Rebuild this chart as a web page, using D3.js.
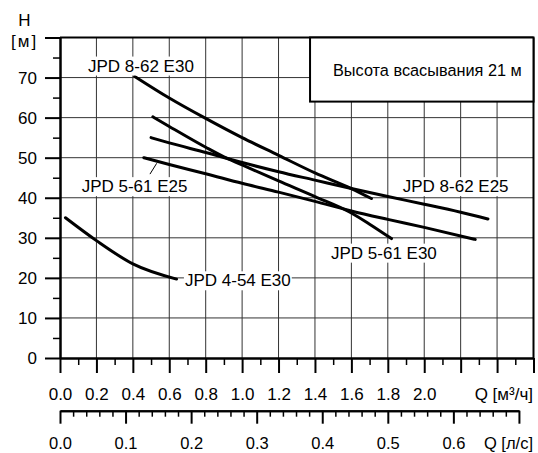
<!DOCTYPE html>
<html><head><meta charset="utf-8">
<script src="https://cdn.jsdelivr.net/npm/d3@7"></script>
<style>
html,body{margin:0;padding:0;background:#fff;}
svg text{font-family:"Liberation Sans",Arial,Helvetica,sans-serif;fill:#000;}
</style></head><body>
<svg id="chart" width="538" height="453"></svg>
<script>
// ---- data (Q in m3/h, H in m) ----
const seriesNames = ["JPD 8-62 E30", "JPD 5-61 E30", "JPD 8-62 E25", "JPD 5-61 E25", "JPD 4-54 E30"];
const jpd862e30 = [[0.41,70.3],[0.6,64.9],[0.8,59.8],[1.0,55.0],[1.2,50.6],[1.4,46.2],[1.6,42.3],[1.71,39.8]];
const jpd561e30 = [[0.51,60.2],[0.6,57.8],[0.8,52.6],[0.9,50.2],[1.0,48.2],[1.2,44.2],[1.4,40.3],[1.6,36.2],[1.7,33.4],[1.82,29.8]];
const jpd862e25 = [[0.50,55.0],[0.6,53.7],[0.8,51.3],[1.0,48.8],[1.2,46.5],[1.4,44.4],[1.6,42.3],[1.8,40.3],[2.0,38.4],[2.2,36.4],[2.35,34.7]];
const jpd561e25 = [[0.46,50.0],[0.6,48.3],[0.8,46.0],[1.0,43.6],[1.2,41.4],[1.4,39.1],[1.6,36.7],[1.8,34.6],[2.0,32.6],[2.28,29.6]];
const jpd454e30 = [[0.03,35.0],[0.2,29.3],[0.4,23.5],[0.64,19.7]];
const qTickLabels = ["0.0","0.2","0.4","0.6","0.8","1.0","1.2","1.4","1.6","1.8","2.0"];
const lsTickLabels = ["0.0","0.1","0.2","0.3","0.4","0.5","0.6"];
const hTickLabels = ["0","10","20","30","40","50","60","70"];
const legendText = "Высота всасывания 21 м";
const qTitle = "Q [м³/ч]";
const lsTitle = "Q [л/с]";
const hTitle = "H";
const hUnit = "[м]";

const svg = d3.select("#chart");
const FS = 17;
const x = d3.scaleLinear().domain([0, 2.6]).range([60, 533.5]);
const y = d3.scaleLinear().domain([0, 80]).range([358, 37.5]);
const xls = d3.scaleLinear().domain([0, 0.7]).range([x(0), x(0.7 * 3.6)]);

// grid
const grid = svg.append("g");
grid.selectAll("line.v").data(d3.range(1, 13).map(i => i * 0.2)).join("line")
  .attr("x1", d => x(d)).attr("x2", d => x(d)).attr("y1", y(0)).attr("y2", y(80))
  .attr("stroke", "#333").attr("stroke-width", 1);
grid.selectAll("line.h").data(d3.range(1, 8).map(i => i * 10)).join("line")
  .attr("y1", d => y(d)).attr("y2", d => y(d)).attr("x1", x(0)).attr("x2", x(2.6))
  .attr("stroke", "#333").attr("stroke-width", 1);
// frame top/right
svg.append("line").attr("x1", x(0)).attr("x2", x(2.6)).attr("y1", y(80)).attr("y2", y(80)).attr("stroke", "#000").attr("stroke-width", 2);
svg.append("line").attr("x1", x(2.6)).attr("x2", x(2.6)).attr("y1", y(80)).attr("y2", y(0)).attr("stroke", "#000").attr("stroke-width", 2);

// curves
const line = d3.line().x(d => x(d[0])).y(d => y(d[1])).curve(d3.curveMonotoneX);
svg.append("g").selectAll("path").data([jpd862e30, jpd561e30, jpd862e25, jpd561e25, jpd454e30]).join("path")
  .attr("d", line).attr("fill", "none").attr("stroke", "#000").attr("stroke-width", 3).attr("stroke-linecap", "round");

// curve labels with white background
function label(txt, px, py) {
  const g = svg.append("g");
  const t = g.append("text").attr("x", px).attr("y", py).attr("font-size", FS).text(txt);
  const b = t.node().getBBox();
  g.insert("rect", "text").attr("x", b.x - 1).attr("y", b.y).attr("width", b.width + 2).attr("height", b.height).attr("fill", "#fff");
}
label(seriesNames[0], x(0.154), y(71.5));
label(seriesNames[3], x(0.119), y(41.4));
label(seriesNames[4], x(0.686), y(17.9));
label(seriesNames[2], x(1.882), y(41.4));
label(seriesNames[1], x(1.488), y(24.8));
// leader for JPD 5-61 E25
svg.append("line").attr("x1", x(0.494)).attr("y1", y(45.9)).attr("x2", x(0.531)).attr("y2", y(48.6))
  .attr("stroke", "#000").attr("stroke-width", 1);

function styleAxis(g, tw, fs) {
  g.selectAll("text").attr("font-size", fs || FS).attr("font-family", null);
  g.selectAll(".tick line").attr("stroke", "#000").attr("stroke-width", tw);
  g.select(".domain").attr("stroke", "#000").attr("stroke-width", 2);
  g.attr("font-family", null).attr("font-size", null);
}

// top Q axis (m3/h)
const qMajor = d3.range(0, 14).map(i => i * 0.2);
const qMinor = d3.range(0, 13).map(i => i * 0.2 + 0.1);
const gq2 = svg.append("g").attr("transform", `translate(0,${y(0)})`)
  .call(d3.axisBottom(x).tickValues(qMinor).tickSize(7).tickSizeOuter(0).tickFormat(""));
styleAxis(gq2, 1.5);
const gq = svg.append("g").attr("transform", `translate(0,${y(0)})`)
  .call(d3.axisBottom(x).tickValues(qMajor).tickSize(15).tickSizeOuter(0).tickPadding(15)
    .tickFormat((d, i) => qTickLabels[i] || ""));
styleAxis(gq, 2);
svg.append("text").attr("x", 533).attr("y", 400).attr("text-anchor", "end").attr("font-size", FS).text(qTitle);

// bottom l/s axis
const lsY = 410.7;
const lsMajor = d3.range(0, 8).map(i => i * 0.1);
const lsMinor = d3.range(0, 36).map(i => i * 0.02).filter((d, i) => i % 5 !== 0);
const gl2 = svg.append("g").attr("transform", `translate(0,${lsY})`)
  .call(d3.axisBottom(xls).tickValues(lsMinor).tickSize(6).tickSizeOuter(0).tickFormat(""));
styleAxis(gl2, 1.5);
const gl = svg.append("g").attr("transform", `translate(0,${lsY})`)
  .call(d3.axisBottom(xls).tickValues(lsMajor).tickSize(13).tickSizeOuter(0).tickPadding(14)
    .tickFormat((d, i) => lsTickLabels[i] || ""));
styleAxis(gl, 2, 16.5);
svg.append("text").attr("x", 533).attr("y", 449).attr("text-anchor", "end").attr("font-size", 16.5).text(lsTitle);

// H axis
const hMajor = d3.range(0, 9).map(i => i * 10);
const hMinor = d3.range(0, 8).map(i => i * 10 + 5);
const gh2 = svg.append("g").attr("transform", `translate(${x(0)},0)`)
  .call(d3.axisLeft(y).tickValues(hMinor).tickSize(7).tickSizeOuter(0).tickFormat(""));
styleAxis(gh2, 1.5);
const gh = svg.append("g").attr("transform", `translate(${x(0)},0)`)
  .call(d3.axisLeft(y).tickValues(hMajor).tickSize(15).tickSizeOuter(0).tickPadding(8)
    .tickFormat((d, i) => hTickLabels[i] || ""));
styleAxis(gh, 2);
svg.append("text").attr("x", 24.5).attr("y", 26).attr("text-anchor", "middle").attr("font-size", FS).text(hTitle);
svg.append("text").attr("x", 11).attr("y", 47).attr("font-size", FS).attr("letter-spacing", 2).text(hUnit);

// legend box
svg.append("rect").attr("x", x(1.373)).attr("y", y(80)).attr("width", x(2.6) - x(1.373)).attr("height", y(64) - y(80))
  .attr("fill", "#fff").attr("stroke", "#000").attr("stroke-width", 2);
svg.append("text").attr("x", 333).attr("y", 75.5).attr("font-size", 16.3).text(legendText);
</script>
</body></html>
